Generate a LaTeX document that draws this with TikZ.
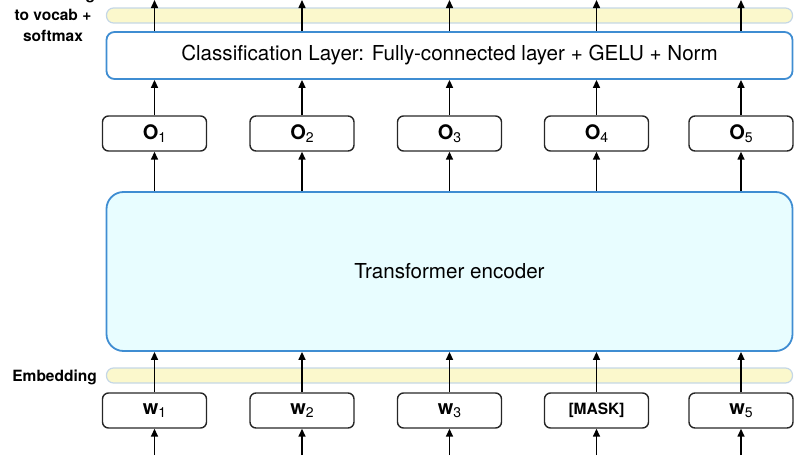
\documentclass[tikz,border=0pt]{standalone}
\usepackage{fontspec}
\setmainfont{TeX Gyre Heros}
\usetikzlibrary{arrows.meta}
\definecolor{boxblue}{HTML}{3F8DD2}
\definecolor{encfill}{HTML}{E8FDFF}
\definecolor{barfill}{HTML}{FBF8CC}
\definecolor{barline}{HTML}{C5D7E6}
\tikzset{
  tok/.style={draw=black!85, line width=1.4pt, rounded corners=6pt, minimum width=104pt, minimum height=35pt, inner sep=0pt, font=\fontsize{20}{20}\selectfont\bfseries},
  bar/.style={draw=barline, fill=barfill, line width=1.2pt, rounded corners=7pt, minimum width=686pt, minimum height=15pt, inner sep=0pt},
  bluebox/.style={draw=boxblue, line width=1.8pt, minimum width=686pt, inner sep=0pt, font=\fontsize{20.6}{20.6}\selectfont},
  arr/.style={-{Triangle[length=8pt,width=7pt]}, line width=1.5pt, black},
  sidelab/.style={font=\fontsize{15.5}{21}\selectfont\bfseries, align=center, inner sep=0pt}
}
\newcommand{\subd}[1]{\raisebox{-3pt}{\mdseries\fontsize{14}{14}\selectfont #1}}
\begin{document}
\begin{tikzpicture}[x=1pt,y=-1pt]
\useasboundingbox (0,0) rectangle (808,455);
\clip (0,0) rectangle (808,455);
% bars
\node[bar] (topbar) at (449.5,15.5) {};
\node[bar] (embbar) at (449.5,375.5) {};
% blue boxes
\node[bluebox, rounded corners=8pt, minimum height=47pt] (cls) at (449.5,55.5) {Classification Layer: Fully-connected layer + GELU + Norm};
\node[bluebox, fill=encfill, rounded corners=17pt, minimum height=159pt] (enc) at (449.5,271.5) {Transformer encoder};
% side labels
\node[sidelab, anchor=base] (lab1) at (53,-1) {Embedding};
\node[sidelab, anchor=base] (lab2) at (53,20) {to vocab +};
\node[sidelab, anchor=base] (lab3) at (53,41) {softmax};
\node[sidelab, anchor=base east] (emblab) at (97,381) {Embedding};
% output tokens
\foreach \i/\x in {1/154.5,2/302,3/449.5,4/596.5,5/741} {
  \node[tok] (o\i) at (\x,133.5) {O\subd{\i}};
}
% input tokens
\node[tok] (w1) at (154.5,410.5) {w\subd{1}};
\node[tok] (w2) at (302,410.5) {w\subd{2}};
\node[tok] (w3) at (449.5,410.5) {w\subd{3}};
\node[tok, font=\fontsize{15.5}{15.5}\selectfont\bfseries] (w4) at (596.5,410.5) {[MASK]};
\node[tok] (w5) at (741,410.5) {w\subd{5}};
% arrows
\foreach \i in {1,...,5} {
  \coordinate (b\i) at (w\i.south |- 0,455);
  \coordinate (t\i) at (o\i.north |- 0,0);
  \draw[arr] (b\i) -- (w\i.south);
  \draw[arr] (w\i.north) -- (w\i.north |- enc.south);
  \draw[arr] (o\i.south |- enc.north) -- (o\i.south);
  \draw[arr] (o\i.north) -- (o\i.north |- cls.south);
  \draw[arr] (o\i.north |- cls.north) -- (t\i);
}
\end{tikzpicture}
\end{document}
